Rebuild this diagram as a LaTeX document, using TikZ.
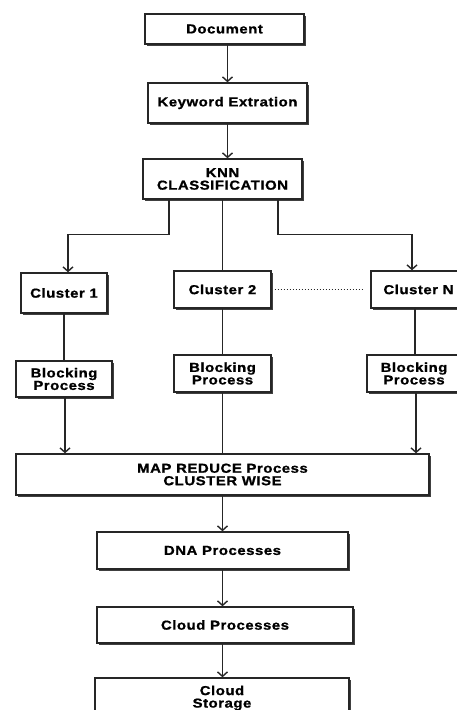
\documentclass[tikz,border=0pt]{standalone}
\usepackage{fontspec}
\newfontfamily\boxfont[FakeStretch=1.15,LetterSpace=4,FakeBold=1]{Liberation Sans}
\usetikzlibrary{arrows.meta,shadows}
\begin{document}
\begin{tikzpicture}[x=1pt,y=-1pt,
  box/.style={draw=black!85, line width=1.4pt, fill=white, inner sep=0pt, align=center,
    font=\boxfont\bfseries\fontsize{13}{12.5}\selectfont,
    drop shadow={shadow xshift=2.2pt, shadow yshift=-2.2pt, fill=black!75, opacity=1}},
  link/.style={draw=black!85, line width=1.4pt},
  arr/.style={link, -{Straight Barb[length=4.5pt,width=10pt]}},
]
\useasboundingbox (0,0) rectangle (457,710);
\clip (0,0) rectangle (457,710);
\node[box, minimum width=159pt, minimum height=30pt] (doc) at (224.5,29) {Document};
\node[box, minimum width=159pt, minimum height=40pt] (kw) at (227.5,103) {Keyword Extration};
\node[box, minimum width=159pt, minimum height=40pt] (knn) at (222.5,179) {KNN\\CLASSIFICATION};
\node[box, minimum width=86pt, minimum height=40pt] (c1) at (64,293) {Cluster 1};
\node[box, minimum width=97pt, minimum height=37pt] (c2) at (222.5,289.5) {Cluster 2};
\node[box, minimum width=95pt, minimum height=37pt] (cN) at (418.5,289.5) {Cluster N};
\node[box, minimum width=96pt, minimum height=36pt] (b1) at (64,379) {Blocking\\Process};
\node[box, minimum width=97pt, minimum height=37pt] (b2) at (222.5,373.5) {Blocking\\Process};
\node[box, minimum width=94pt, minimum height=37pt] (bN) at (414,373.5) {Blocking\\Process};
\node[box, minimum width=413pt, minimum height=41pt] (mr) at (222.5,474.5) {MAP REDUCE Process\\CLUSTER WISE};
\node[box, minimum width=251pt, minimum height=37pt] (dna) at (222.5,550.5) {DNA Processes};
\node[box, minimum width=256pt, minimum height=36pt] (cp) at (225,625) {Cloud Processes};
\node[box, minimum width=254pt, minimum height=40pt] (cs) at (222,698) {Cloud\\Storage};
% connectors
\draw[arr] (doc.south -| kw.north) -- (kw.north);
\draw[arr] (kw.south) -- (kw.south |- knn.north);
\draw[arr] ([xshift=-53.5pt]knn.south) -- ++(0,35) -| ([xshift=4pt]c1.north);
\draw[link] (knn.south) -- (c2.north);
\draw[arr] ([xshift=55.5pt]knn.south) -- ++(0,35) -| ([xshift=-6.5pt]cN.north);
\draw[link, line width=1.5pt, dash pattern=on 1.5pt off 1.5pt] ([xshift=3pt]c2.east) -- ([xshift=-8pt]c2.east -| cN.west);
\draw[link] (c1.south) -- (c1.south |- b1.north);
\draw[link] (c2.south) -- (b2.north);
\draw[link] ([xshift=-3.5pt]cN.south) -- ([xshift=-3.5pt]cN.south |- bN.north);
\draw[arr] ([xshift=1pt]b1.south) -- ([xshift=1pt]b1.south |- mr.north);
\draw[link] (b2.south) -- (b2.south |- mr.north);
\draw[arr] ([xshift=2pt]bN.south) -- ([xshift=2pt]bN.south |- mr.north);
\draw[arr] (mr.south) -- (mr.south |- dna.north);
\draw[arr] (dna.south) -- (dna.south |- cp.north);
\draw[arr] (dna.south |- cp.south) -- (dna.south |- cs.north);
\end{tikzpicture}
\end{document}
